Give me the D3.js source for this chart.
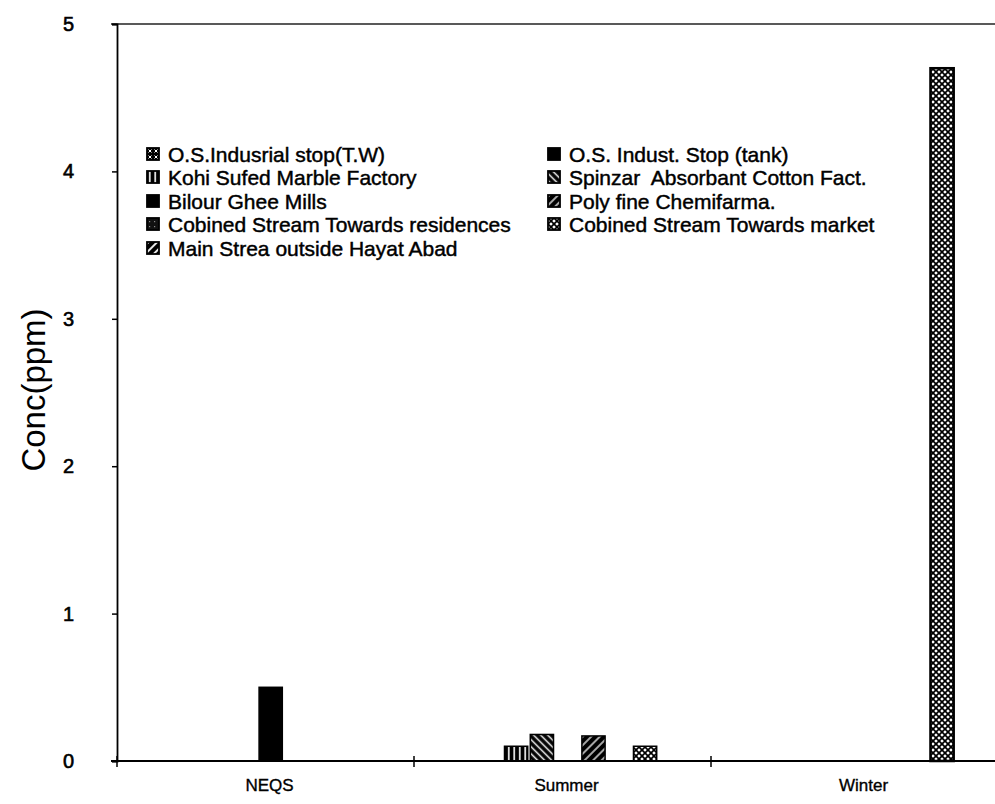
<!DOCTYPE html>
<html>
<head>
<meta charset="utf-8">
<script src="https://cdn.jsdelivr.net/npm/d3@7"></script>
<style>
  html, body { margin: 0; padding: 0; background: #fff; }
  svg { display: block; }
  text { font-family: "Liberation Sans", Arial, sans-serif; fill: #000; white-space: pre; }
</style>
</head>
<body>
<svg id="chart" width="995" height="804"></svg>
<script>
// Sampling seasons on the x axis
const categories = ["NEQS", "Summer", "Winter"];

// Sampling points (one bar series each)
const seriesNames = [
  "O.S.Indusrial stop(T.W)",
  "O.S. Indust. Stop (tank)",
  "Kohi Sufed Marble Factory",
  "Spinzar  Absorbant Cotton Fact.",
  "Bilour Ghee Mills",
  "Poly fine Chemifarma.",
  "Cobined Stream Towards residences",
  "Cobined Stream Towards market",
  "Main Strea outside Hayat Abad"
];

// Concentration (ppm) per series, in category order NEQS / Summer / Winter
const osIndustrialTW   = [0,   0,    0];
const osIndustTank     = [0,   0,    0];
const kohiSufed        = [0,   0.1,  0];
const spinzar          = [0,   0.18, 0];
const bilourGhee       = [0.5, 0,    0];
const polyFine         = [0,   0.17, 0];
const streamResidences = [0,   0,    0];
const streamMarket     = [0,   0.1,  4.7];
const mainStream       = [0,   0,    0];

const seriesValues = [osIndustrialTW, osIndustTank, kohiSufed, spinzar, bilourGhee,
                      polyFine, streamResidences, streamMarket, mainStream];

const yTicks = [0, 1, 2, 3, 4, 5];

const svg = d3.select("#chart");

// Plot frame
const plotLeft = 117, plotTop = 24, plotBottom = 761, plotRight = 1008;

const x0 = d3.scaleBand().domain(categories).range([plotLeft, plotRight]).paddingInner(0).paddingOuter(0);
const bw = x0.bandwidth();
const x1 = d3.scaleBand().domain(seriesNames)
  .range([bw * 0.131, bw * 0.904]).paddingInner(0.1).paddingOuter(0);
const y = d3.scaleLinear().domain([0, 5]).range([plotBottom, plotTop]);

// Fill patterns for the series
const defs = svg.append("defs");
function stripes(id, size, lineW, angle) {
  const p = defs.append("pattern").attr("id", id).attr("patternUnits", "userSpaceOnUse")
    .attr("width", size).attr("height", size).attr("patternTransform", `rotate(${angle})`);
  p.append("rect").attr("width", size).attr("height", size).attr("fill", "#000");
  p.append("rect").attr("x", (size - lineW) / 2).attr("width", lineW).attr("height", size).attr("fill", "#fff");
}
stripes("p-vert", 5.5, 1.6, 0);
stripes("p-back", 5, 1.5, -45);
stripes("p-fwd", 6, 1.3, 45);
stripes("p-fwd2", 6, 1.8, 45);
{
  const p = defs.append("pattern").attr("id", "p-cross").attr("patternUnits", "userSpaceOnUse")
    .attr("width", 6).attr("height", 6);
  p.append("rect").attr("width", 6).attr("height", 6).attr("fill", "#fff");
  p.append("path").attr("d", "M0,0L6,6M6,0L0,6").attr("stroke", "#000").attr("stroke-width", 1.7);
}
{
  const p = defs.append("pattern").attr("id", "p-xdots").attr("patternUnits", "userSpaceOnUse")
    .attr("width", 6).attr("height", 6);
  p.append("rect").attr("width", 6).attr("height", 6).attr("fill", "#000");
  p.append("path").attr("d", "M1.5,1.5L4.5,4.5M4.5,1.5L1.5,4.5").attr("stroke", "#fff").attr("stroke-width", 1);
}
{
  const p = defs.append("pattern").attr("id", "p-dots").attr("patternUnits", "userSpaceOnUse")
    .attr("width", 5).attr("height", 5);
  p.append("rect").attr("width", 5).attr("height", 5).attr("fill", "#111");
  p.append("rect").attr("x", 2).attr("y", 2).attr("width", 1.2).attr("height", 1.2).attr("fill", "#888");
}

const seriesFill = d3.scaleOrdinal().domain(seriesNames).range([
  "url(#p-xdots)", "#000", "url(#p-vert)", "url(#p-back)", "#000",
  "url(#p-fwd)", "url(#p-dots)", "url(#p-cross)", "url(#p-fwd2)"
]);

// Bars
const barData = [];
seriesNames.forEach((s, si) => {
  categories.forEach((c, ci) => {
    const v = seriesValues[si][ci];
    if (v > 0) barData.push({ series: s, category: c, value: v });
  });
});

svg.append("g").selectAll("rect").data(barData).join("rect")
  .attr("x", d => x0(d.category) + x1(d.series))
  .attr("y", d => y(d.value))
  .attr("width", x1.bandwidth())
  .attr("height", d => y(0) - y(d.value))
  .attr("fill", d => seriesFill(d.series))
  .attr("stroke", "#000")
  .attr("stroke-width", d => d.value > 1 ? 2.5 : 1.5);

// Top border of the plot area
svg.append("line").attr("x1", plotLeft - 6).attr("x2", 995).attr("y1", plotTop).attr("y2", plotTop)
  .attr("stroke", "#222").attr("stroke-width", 1.5);

// Y axis
const yAxis = svg.append("g").attr("transform", `translate(${plotLeft},0)`)
  .call(d3.axisLeft(y).tickValues(yTicks).tickSize(5).tickPadding(38).tickFormat(d3.format("d")));
yAxis.select(".domain").attr("stroke", "#000").attr("stroke-width", 1.8);
yAxis.selectAll(".tick line").attr("stroke", "#000").attr("stroke-width", 1.5);
yAxis.selectAll(".tick text").attr("font-size", 20).attr("font-family", "Liberation Sans, Arial, sans-serif")
  .attr("stroke", "#000").attr("stroke-width", 0.6);

// X axis: boundary ticks between categories
const xBounds = categories.map(c => x0(c)).concat([plotRight]);
const xAxis = svg.append("g");
xAxis.append("line").attr("x1", plotLeft - 6).attr("x2", 995).attr("y1", plotBottom).attr("y2", plotBottom)
  .attr("stroke", "#000").attr("stroke-width", 2);
xAxis.selectAll("line.tk").data(xBounds).join("line").attr("class", "tk")
  .attr("x1", d => d).attr("x2", d => d).attr("y1", plotBottom - 5).attr("y2", plotBottom + 6)
  .attr("stroke", "#000").attr("stroke-width", 1.5);
xAxis.selectAll("text").data(categories).join("text")
  .attr("x", d => x0(d) + bw / 2 + 4).attr("y", plotBottom + 30)
  .attr("text-anchor", "middle").attr("font-size", 17)
  .attr("stroke", "#000").attr("stroke-width", 0.35)
  .text(d => d);

// Y axis title
svg.append("text").attr("transform", "translate(45,390) rotate(-90)")
  .attr("text-anchor", "middle").attr("font-size", 33).text("Conc(ppm)");

// Legend (two columns, row-major)
const legendCols = [147, 548], legendRows = [154, 177, 201, 224, 248];
const legend = svg.append("g").selectAll("g").data(seriesNames).join("g")
  .attr("transform", (d, i) => `translate(${legendCols[i % 2]},${legendRows[Math.floor(i / 2)]})`);
legend.append("rect").attr("x", 0).attr("y", -6).attr("width", 12).attr("height", 12)
  .attr("fill", d => seriesFill(d)).attr("stroke", "#000").attr("stroke-width", 1.8);
legend.append("text").attr("x", 21).attr("y", 0).attr("dy", "0.36em")
  .attr("font-size", 21).attr("stroke", "#000").attr("stroke-width", 0.45)
  .text(d => d);
</script>
</body>
</html>
